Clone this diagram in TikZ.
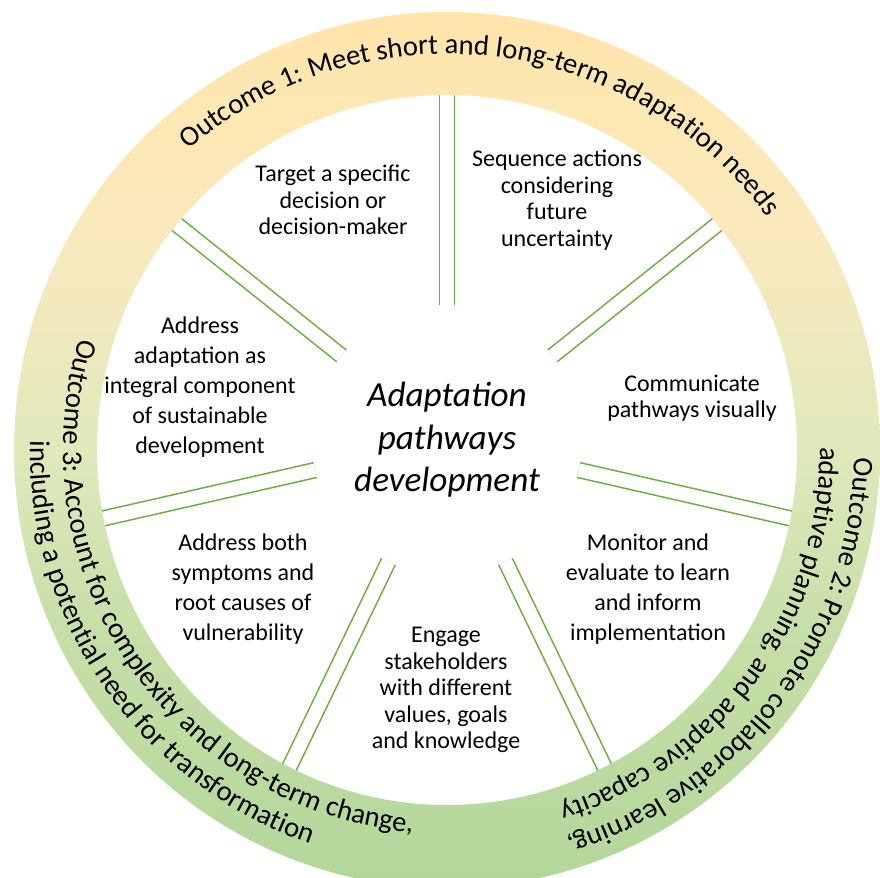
\documentclass[tikz,border=0pt]{standalone}
\usepackage{fontspec}
\setmainfont{Carlito}
\usepackage{tikz}
\usetikzlibrary{decorations.text}

\definecolor{spokegreen}{RGB}{112,173,71}
\definecolor{ringtop}{RGB}{255,229,170}
\definecolor{ringhigh}{RGB}{250,233,190}
\definecolor{ringmid}{RGB}{224,233,188}
\definecolor{ringlow}{RGB}{199,223,168}
\definecolor{ringbottom}{RGB}{178,214,154}
\pgfdeclareverticalshading{ringshade}{100bp}{color(0bp)=(ringbottom); color(25bp)=(ringbottom); color(40bp)=(ringlow); color(50bp)=(ringmid); color(62bp)=(ringhigh); color(75bp)=(ringtop); color(100bp)=(ringtop)}

\begin{document}
\begin{tikzpicture}[x=0.5pt, y=0.5pt,
  spoke/.style={draw=spokegreen, line width=0.8pt, double=white, double distance=6.7pt},
  idea/.style={align=center, font=\fontsize{12}{13.25}\selectfont},
  idea loose/.style={idea, font=\fontsize{12}{15}\selectfont},
  outcome/.style={decorate, decoration={text along path, text align=center,
    text={|\fontsize{14.3}{17}\selectfont|#1}}}]
  \useasboundingbox (-447,-428) rectangle (433,450);

  \coordinate (hub) at (0,10);
  \foreach \k in {0,...,6} {
    \pgfmathsetmacro\a{90+\k*360/7}
    \draw[spoke] ([shift={(\a:135)}]hub) -- ([shift={(\a:380)}]hub);
  }

  \shade[shading=ringshade, even odd rule] (0,0) ellipse [x radius=433, y radius=438]
    (0,0) ellipse [x radius=350, y radius=355];

  \path[outcome={Outcome 1: Meet short and long-term adaptation needs}]
    (153.4:396) arc[start angle=153.4, end angle=13.4, radius=396];
  \path[outcome={Outcome 2: Promote collaborative learning,}]
    (23:407) arc[start angle=23, end angle=-97, radius=407];
  \path[outcome={adaptive planning, and adaptive capacity}]
    (24:373) arc[start angle=24, end angle=-96, radius=373];
  \path[outcome={Outcome 3: Account for complexity and long-term change,}]
    (144:384) arc[start angle=144, end angle=284, radius=384];
  \path[outcome={including a potential need for transformation}]
    (144.8:417) arc[start angle=144.8, end angle=284.8, radius=417];

  \node[font=\fontsize{17.6}{21.25}\selectfont\itshape, align=center] (core) at (hub)
    {Adaptation\\pathways\\development};
  \node[idea] (target) at (-114,250) {Target a specific\\decision or\\decision-maker};
  \node[idea] (sequence) at (110,250) {Sequence actions\\considering\\future\\uncertainty};
  \node[idea loose] (integral) at (-247,63)
    {Address\\adaptation as\\integral component\\of sustainable\\development};
  \node[idea] (visual) at (245,52) {Communicate\\pathways visually};
  \node[idea loose] (roots) at (-204,-139) {Address both\\symptoms and\\root causes of\\vulnerability};
  \node[idea] (engage) at (-1,-240) {Engage\\stakeholders\\with different\\values, goals\\and knowledge};
  \node[idea loose] (monitor) at (201,-139) {Monitor and\\evaluate to learn\\and inform\\implementation};
\end{tikzpicture}
\end{document}
